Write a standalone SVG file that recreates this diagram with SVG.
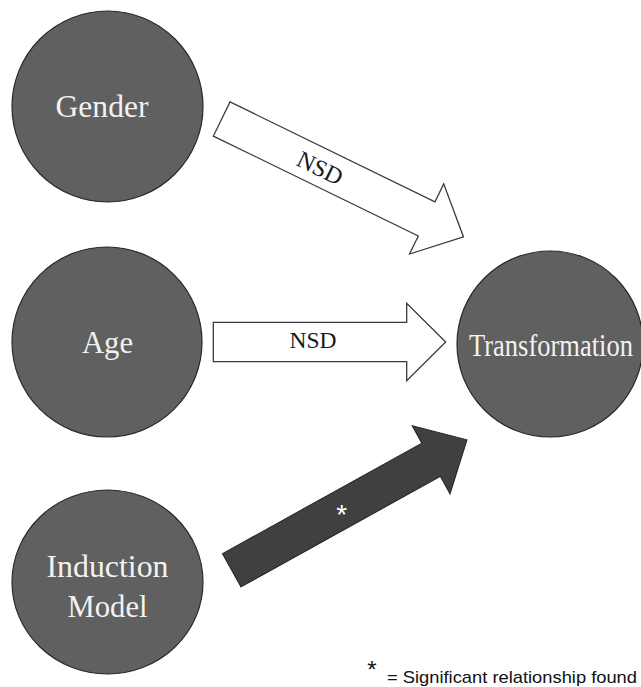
<svg xmlns="http://www.w3.org/2000/svg" width="641" height="687" viewBox="0 0 641 687">
<style>
.node{fill:#606060;stroke:#2a2a2a;stroke-width:1.2}
.ntext{font-family:'Liberation Serif',Tinos,'Times New Roman',Times,serif;font-size:32px;fill:#f2f2f2;text-anchor:middle}
.hollow{fill:#ffffff;stroke:#3a3a3a;stroke-width:1.3;stroke-linejoin:miter}
.solid{fill:#404040;stroke:#222;stroke-width:1}
.alabel{font-family:'Liberation Serif',Tinos,'Times New Roman',Times,serif;font-size:24px;fill:#1a1a1a;text-anchor:middle}
.star{font-family:'Liberation Sans',Arial,sans-serif;text-anchor:middle}
.legend{font-family:'Liberation Sans',Arial,sans-serif;font-size:17px;fill:#111}
</style>
<rect width="641" height="687" fill="#ffffff"/>
<defs>
<path id="arr" d="M0,-19 L228,-19 L228,-39 L269,0 L228,39 L228,19 L0,19 Z"/>
</defs>
<g id="connectors">
<g id="edge-gender" transform="translate(221.7,119) rotate(26)">
<use href="#arr" class="hollow"/>
<text class="alabel" x="110" y="9" textLength="48" lengthAdjust="spacingAndGlyphs">NSD</text>
</g>
<g id="edge-age">
<path class="hollow" d="M213.3,322.3 L406.7,322.3 L406.7,303.3 L445.7,342 L406.7,380.7 L406.7,361.7 L213.3,361.7 Z"/>
<text class="alabel" x="313" y="348.3" textLength="47" lengthAdjust="spacingAndGlyphs">NSD</text>
</g>
<g id="edge-induction" transform="translate(231.7,570.3) rotate(-29)">
<use href="#arr" class="solid"/>
</g>
<text class="star" x="341.7" y="524" font-size="28" fill="#ffffff">*</text>
</g>
<g id="node-gender">
<circle class="node" cx="107.5" cy="106.5" r="95.5"/>
<text class="ntext" x="102" y="117" textLength="93" lengthAdjust="spacingAndGlyphs">Gender</text>
</g>
<g id="node-age">
<circle class="node" cx="107" cy="342" r="95"/>
<text class="ntext" x="107.5" y="353" textLength="51" lengthAdjust="spacingAndGlyphs">Age</text>
</g>
<g id="node-induction">
<ellipse class="node" cx="107.5" cy="582" rx="95.5" ry="92"/>
<text class="ntext" x="107.5" y="577" textLength="122" lengthAdjust="spacingAndGlyphs">Induction</text>
<text class="ntext" x="107.5" y="617" textLength="80" lengthAdjust="spacingAndGlyphs">Model</text>
</g>
<g id="node-transformation">
<circle class="node" cx="550" cy="344" r="93"/>
<text class="ntext" x="551" y="356" font-size="29" textLength="164" lengthAdjust="spacingAndGlyphs">Transformation</text>
</g>
<g id="legend">
<text class="star" x="372" y="678" font-size="24" fill="#111">*</text>
<text class="legend" x="387" y="682.7" textLength="250" lengthAdjust="spacingAndGlyphs">= Significant relationship found</text>
</g>
</svg>
